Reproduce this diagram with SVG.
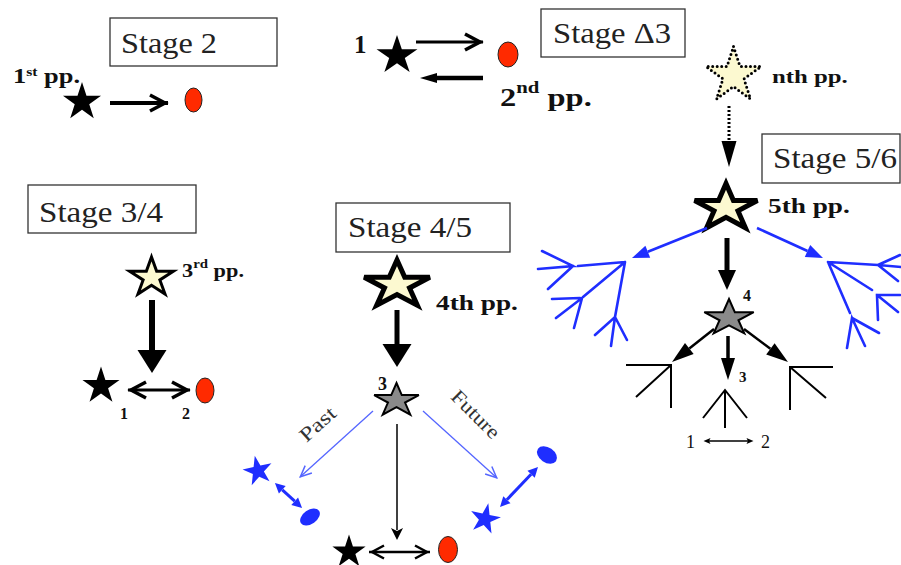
<svg xmlns="http://www.w3.org/2000/svg" width="901" height="565" viewBox="0 0 901 565">
<style>
.box{fill:#fff;stroke:#333;stroke-width:1.3}
.stg{font-family:"Liberation Serif","Times New Roman",serif;font-size:29px;fill:#222}
.lbl{font-family:"Liberation Serif","Times New Roman",serif;font-weight:bold;fill:#111}
.num{font-family:"Liberation Serif","Times New Roman",serif;fill:#111}
.it{font-family:"Liberation Serif","Times New Roman",serif;font-size:20px;fill:#333}
.sb{fill:#000}
.sc{fill:#fcf9d0;stroke:#000}
.sg{fill:#8a8a8a;stroke:#000;stroke-width:2}
.sbl{fill:#1f2eff}
.red{fill:#ff2a00;stroke:#222;stroke-width:1}
.blue{fill:#1f2eff}
.bt{stroke:#1f2eff;stroke-width:2.6;fill:none;stroke-linecap:round}
.kt{stroke:#000;stroke-width:2;fill:none}
.k{stroke:#000;fill:none}
.kb{stroke:#1f2eff;fill:none}
.kl{stroke:#5566ff;stroke-width:1.3;fill:none}
</style>
<defs>
<polygon id="st" vector-effect="non-scaling-stroke" points="0,-10 2.245,-3.09 9.511,-3.09 3.633,1.18 5.878,8.09 0,3.82 -5.878,8.09 -3.633,1.18 -9.511,-3.09 -2.245,-3.09"/>
<marker id="chevA" markerUnits="userSpaceOnUse" viewBox="0 0 24 20" markerWidth="24" markerHeight="20" refX="20" refY="10" orient="auto-start-reverse" overflow="visible"><path d="M2,2 L17,10 L2,18" fill="none" stroke="#000" stroke-width="3.5"/></marker>
<marker id="chevB" markerUnits="userSpaceOnUse" viewBox="0 0 20 19" markerWidth="20" markerHeight="19" refX="17" refY="9.5" orient="auto-start-reverse" overflow="visible"><path d="M2,3 L14,9.5 L2,16" fill="none" stroke="#000" stroke-width="2.5"/></marker>
<marker id="chevBl" markerUnits="userSpaceOnUse" viewBox="0 0 14 12" markerWidth="14" markerHeight="12" refX="12.5" refY="6" orient="auto" overflow="visible"><path d="M1,1 L12,6 L1,11" fill="none" stroke="#5566ff" stroke-width="1.5"/></marker>
<marker id="triL" markerUnits="userSpaceOnUse" viewBox="0 0 23 29" markerWidth="23" markerHeight="29" refX="0" refY="14.5" orient="auto" overflow="visible"><path d="M0,0 L23,14.5 L0,29 z" fill="#000"/></marker>
<marker id="triM" markerUnits="userSpaceOnUse" viewBox="0 0 20 18" markerWidth="20" markerHeight="18" refX="0" refY="9" orient="auto" overflow="visible"><path d="M0,0 L20,9 L0,18 z" fill="#000"/></marker>
<marker id="triS" markerUnits="userSpaceOnUse" viewBox="0 0 22 14" markerWidth="22" markerHeight="14" refX="0" refY="7" orient="auto" overflow="visible"><path d="M0,0 L22,7 L0,14 z" fill="#000"/></marker>
<marker id="triD" markerUnits="userSpaceOnUse" viewBox="0 0 26 15" markerWidth="26" markerHeight="15" refX="0" refY="7.5" orient="auto" overflow="visible"><path d="M0,0 L26,7.5 L0,15 z" fill="#000"/></marker>
<marker id="triN" markerUnits="userSpaceOnUse" viewBox="0 0 17 10" markerWidth="17" markerHeight="10" refX="0" refY="5" orient="auto" overflow="visible"><path d="M0,0 L17,5 L0,10 z" fill="#000"/></marker>
<marker id="triB" markerUnits="userSpaceOnUse" viewBox="0 0 17 13" markerWidth="17" markerHeight="13" refX="0" refY="6.5" orient="auto" overflow="visible"><path d="M0,0 L17,6.5 L0,13 z" fill="#1f2eff"/></marker>
<marker id="triBs" markerUnits="userSpaceOnUse" viewBox="0 0 10 10" markerWidth="10" markerHeight="10" refX="0" refY="5" orient="auto-start-reverse" overflow="visible"><path d="M0,0 L10,5 L0,10 z" fill="#1f2eff"/></marker>
<marker id="triT" markerUnits="userSpaceOnUse" viewBox="0 0 12 12" markerWidth="12" markerHeight="12" refX="2" refY="6" orient="auto" overflow="visible"><path d="M0,0 L12,6 L0,12 L3,6 z" fill="#000"/></marker>
<marker id="triTiny" markerUnits="userSpaceOnUse" viewBox="0 0 7 6" markerWidth="7" markerHeight="6" refX="1.5" refY="3" orient="auto-start-reverse" overflow="visible"><path d="M0,0 L7,3 L0,6 L1.5,3 z" fill="#000"/></marker>
</defs>
<rect width="901" height="565" fill="#fff"/>

<!-- Stage 2 -->
<g id="stage2-box"><rect class="box" x="110" y="18" width="167" height="48"/><text class="stg" x="121" y="53" textLength="96" lengthAdjust="spacingAndGlyphs">Stage 2</text></g>
<g id="pp1-label"><text class="lbl" font-size="22" transform="translate(13,83) scale(1.2,1)">1<tspan font-size="13" dy="-7">st</tspan><tspan dy="7"> pp.</tspan></text></g>
<g id="s2-star"><use href="#st" class="sb" transform="translate(82,102) scale(2)"/></g>
<g id="s2-ellipse"><ellipse class="red" cx="193.5" cy="100" rx="8.5" ry="12"/></g>

<!-- Stage Delta 3 -->
<g id="stageD3-box"><rect class="box" x="541" y="9" width="144" height="48"/><text class="stg" x="553" y="43" textLength="118" lengthAdjust="spacingAndGlyphs">Stage Δ3</text></g>
<g id="d3-star"><text class="lbl" font-size="25" x="354" y="53">1</text><use href="#st" class="sb" transform="translate(397,55.5) scale(2.15,2.05)"/></g>
<g id="d3-ellipse"><ellipse class="red" cx="508" cy="54.5" rx="10" ry="12.5"/></g>
<g id="pp2-label"><text class="lbl" font-size="25" transform="translate(500,106) scale(1.3,1)">2<tspan font-size="16" dy="-13">nd</tspan><tspan dy="13"> pp.</tspan></text></g>

<!-- nth pp / Stage 5/6 -->
<g id="nth-star"><polygon points="733.5,46.5 740,66.5 761.1,66.5 744,78.9 750.5,99 733.5,86.6 716.5,99 723,78.9 705.9,66.5 727,66.5" fill="#fcf9d0" stroke="#000" stroke-width="3" stroke-dasharray="0 4.5" stroke-linecap="round" stroke-linejoin="round"/><text class="lbl" font-size="18.5" transform="translate(772,83) scale(1.34,1)">nth pp.</text></g>
<g id="stage56-box"><rect class="box" x="762" y="134" width="138" height="49"/><text class="stg" x="773" y="168" textLength="124" lengthAdjust="spacingAndGlyphs">Stage 5/6</text></g>
<g id="pp5-star"><use href="#st" class="sc" stroke-width="5" transform="translate(726,208) scale(3.3,2.45)"/><text class="lbl" font-size="22" transform="translate(768,213) scale(1.24,1)">5th pp.</text></g>
<g id="s56-star4"><use href="#st" class="sg" transform="translate(729,318) scale(2.6,1.9)"/><text class="lbl" font-size="16" x="743" y="301">4</text></g>
<g id="s56-tree-left-blue"><path class="bt" d="M625,262 L578,266 M542,251 L573,266 L538,269 M548,289 L573,266 M625,262 L583,297 M552,299 L580,298 M556,318 L582,298 L574,328 M625,262 L615,317 M595,335 L615,317 L611,346 M627,340 L615,317"/></g>
<g id="s56-tree-right-blue"><path class="bt" d="M828,262 L878,265 M900,255 L878,265 L901,267 M898,281 L878,265 M828,262 L872,290 M878,320 L877,295 L900,295 M898,312 L877,295 M828,262 L850,313 M847,348 L852,318 L865,346 M879,333 L852,318"/></g>
<g id="s56-tree-left-black"><path class="kt" d="M626,365 H671 V408 M671,365 L636,397"/></g>
<g id="s56-tree-mid-black"><path class="kt" d="M725,428 V390 M703,418 L725,390 L747,418"/><text class="lbl" font-size="15" x="739" y="382">3</text></g>
<g id="s56-tree-right-black"><path class="kt" d="M790,410 V367 H833 M790,367 L826,398"/></g>
<g id="s56-labels"><text class="num" font-size="18" x="686" y="448">1</text><text class="num" font-size="18" x="761" y="448">2</text></g>

<!-- Stage 3/4 -->
<g id="stage34-box"><rect class="box" x="28" y="185" width="168" height="48"/><text class="stg" x="39" y="222" textLength="124" lengthAdjust="spacingAndGlyphs">Stage 3/4</text></g>
<g id="pp3-star"><use href="#st" class="sc" stroke-width="3" transform="translate(151.5,277.5) scale(2.3,2.05)"/><text class="lbl" font-size="18" transform="translate(182,277) scale(1.24,1)">3<tspan font-size="12" dy="-9">rd</tspan><tspan dy="9"> pp.</tspan></text></g>
<g id="s34-star"><use href="#st" class="sb" transform="translate(101,386) scale(1.95)"/><text class="lbl" font-size="16" x="120" y="419">1</text></g>
<g id="s34-ellipse"><ellipse class="red" cx="205" cy="390.5" rx="9" ry="12.5"/><text class="lbl" font-size="16" x="182" y="419">2</text></g>

<!-- Stage 4/5 -->
<g id="stage45-box"><rect class="box" x="336" y="203" width="174" height="49"/><text class="stg" x="348" y="237" textLength="124" lengthAdjust="spacingAndGlyphs">Stage 4/5</text></g>
<g id="pp4-star"><use href="#st" class="sc" stroke-width="5" transform="translate(397,285) scale(3.45,2.5)"/><text class="lbl" font-size="21" transform="translate(436,310) scale(1.3,1)">4th pp.</text></g>
<g id="s45-star3"><use href="#st" class="sg" transform="translate(396.5,400.5) scale(2.35,1.75)"/><text class="lbl" font-size="18" x="378" y="390">3</text></g>
<g id="past-label"><text class="it" x="322" y="429" text-anchor="middle" textLength="42" lengthAdjust="spacingAndGlyphs" transform="rotate(-42 322 429)">Past</text></g>
<g id="future-label"><text class="it" x="471" y="419" text-anchor="middle" textLength="60" lengthAdjust="spacingAndGlyphs" transform="rotate(45 471 419)">Future</text></g>
<g id="past-star"><use href="#st" class="sbl" transform="translate(258,471) rotate(-12) scale(1.55)"/></g>
<g id="past-ellipse"><ellipse class="blue" cx="310" cy="517" rx="11" ry="7" transform="rotate(-35 310 517)"/></g>
<g id="future-star"><use href="#st" class="sbl" transform="translate(485,519) rotate(12) scale(1.6)"/></g>
<g id="future-ellipse"><ellipse class="blue" cx="547" cy="455" rx="11" ry="7.5" transform="rotate(35 547 455)"/></g>
<g id="present-star"><use href="#st" class="sb" transform="translate(349,552) scale(1.75)"/></g>
<g id="present-ellipse"><ellipse class="red" cx="448" cy="549.5" rx="9.5" ry="13"/></g>

<g id="connectors">
<line class="k" x1="110" y1="103" x2="168" y2="103" stroke-width="4" marker-end="url(#chevA)"/>
<line class="k" x1="416" y1="42" x2="483" y2="42" stroke-width="3.2" marker-end="url(#chevA)"/>
<line class="k" x1="483" y1="78" x2="437" y2="78" stroke-width="4.5" marker-end="url(#triN)"/>
<line class="k" x1="152" y1="300" x2="152" y2="350" stroke-width="6" marker-end="url(#triL)"/>
<line class="k" x1="128" y1="390" x2="190" y2="390" stroke-width="3" marker-start="url(#chevA)" marker-end="url(#chevA)"/>
<line class="k" x1="397" y1="310" x2="397" y2="344" stroke-width="5" marker-end="url(#triL)"/>
<line class="k" x1="397" y1="424" x2="397" y2="530" stroke-width="1.5" marker-end="url(#triT)"/>
<line class="kl" x1="373" y1="411" x2="300" y2="477" marker-end="url(#chevBl)"/>
<line class="kl" x1="423" y1="411" x2="497" y2="478" marker-end="url(#chevBl)"/>
<line class="kb" x1="282.3" y1="489.8" x2="294.7" y2="501.2" stroke-width="3" marker-start="url(#triBs)" marker-end="url(#triBs)"/>
<line class="kb" x1="506.9" y1="499.7" x2="531.1" y2="474.3" stroke-width="3" marker-start="url(#triBs)" marker-end="url(#triBs)"/>
<line class="k" x1="369" y1="552" x2="430" y2="552" stroke-width="2.5" marker-start="url(#chevB)" marker-end="url(#chevB)"/>
<line class="k" x1="729" y1="106" x2="729" y2="141" stroke-width="3" stroke-dasharray="2 2" marker-end="url(#triD)"/>
<line class="k" x1="727" y1="238" x2="727" y2="270" stroke-width="5" marker-end="url(#triM)"/>
<line class="kb" x1="707" y1="228" x2="647.8" y2="251.7" stroke-width="2.6" marker-end="url(#triB)"/>
<line class="kb" x1="757" y1="228" x2="807.5" y2="251" stroke-width="2.6" marker-end="url(#triB)"/>
<line class="k" x1="714" y1="329" x2="689.3" y2="348.4" stroke-width="2.5" marker-end="url(#triS)"/>
<line class="k" x1="728" y1="336" x2="728" y2="358" stroke-width="3.5" marker-end="url(#triS)"/>
<line class="k" x1="744" y1="329" x2="770.4" y2="348.8" stroke-width="2.5" marker-end="url(#triS)"/>
<line class="k" x1="709" y1="441" x2="748" y2="441" stroke-width="1.3" marker-start="url(#triTiny)" marker-end="url(#triTiny)"/>
</g>
</svg>
